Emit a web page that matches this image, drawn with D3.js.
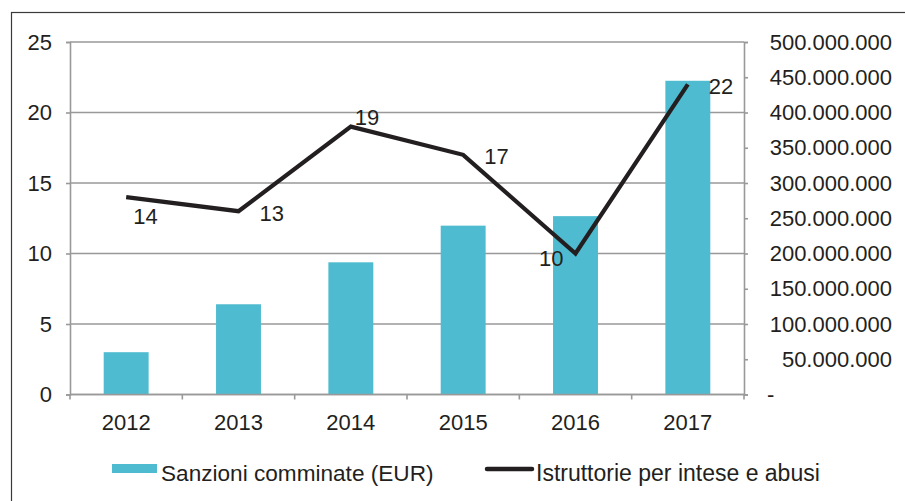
<!DOCTYPE html>
<html>
<head>
<meta charset="utf-8">
<script src="https://cdn.jsdelivr.net/npm/d3@7"></script>
<style>
  html, body { margin: 0; padding: 0; background: #fff; }
  svg { display: block; }
  text { font-family: "Liberation Sans", Arial, Helvetica, sans-serif; fill: #231f20; }
</style>
</head>
<body>
<svg id="chart" width="905" height="501"></svg>
<script>
// ---- data ----
const years = ["2012", "2013", "2014", "2015", "2016", "2017"];
const sanzioni = [60000000, 128000000, 187500000, 239500000, 253000000, 445000000];
const istruttorie = [14, 13, 19, 17, 10, 22];
const leftTicks = [0, 5, 10, 15, 20, 25];
const rightTicks = [0, 50000000, 100000000, 150000000, 200000000, 250000000, 300000000, 350000000, 400000000, 450000000, 500000000];
const seriesNames = ["Sanzioni comminate (EUR)", "Istruttorie per intese e abusi"];
const labelPlacement = ["below", "right", "above", "right", "left", "right"];

// ---- styles ----
const barColor = "#4fbbd0";
const lineColor = "#231f20";
const gridColor = "#999999";
const fontSize = 22;

const svg = d3.select("#chart");
const plot = { left: 70, right: 744, top: 42, bottom: 394.5 };

// outer frame
svg.append("rect")
  .attr("x", 11.5).attr("y", 12.5)
  .attr("width", 960).attr("height", 560)
  .attr("fill", "none").attr("stroke", "#3a3a3a").attr("stroke-width", 1.2);

const x = d3.scaleBand().domain(years).range([plot.left, plot.right])
  .paddingInner(0.6).paddingOuter(0.3);
const yL = d3.scaleLinear().domain([0, 25]).range([plot.bottom, plot.top]);
const yR = d3.scaleLinear().domain([0, 500000000]).range([plot.bottom, plot.top]);

// gridlines
svg.append("g").selectAll("line").data(leftTicks).join("line")
  .attr("x1", plot.left).attr("x2", plot.right)
  .attr("y1", d => yL(d)).attr("y2", d => yL(d))
  .attr("stroke", gridColor).attr("stroke-width", 1.6);

// bars
svg.append("g").selectAll("rect").data(sanzioni).join("rect")
  .attr("x", (d, i) => x(years[i]))
  .attr("width", x.bandwidth())
  .attr("y", d => yR(d))
  .attr("height", d => yR(0) - yR(d))
  .attr("fill", barColor);

// left axis
const leftAxis = svg.append("g").attr("transform", `translate(${plot.left},0)`)
  .call(d3.axisLeft(yL).tickValues(leftTicks).tickSize(4).tickPadding(14).tickFormat(d3.format("d")));
leftAxis.select(".domain").attr("stroke", gridColor).attr("stroke-width", 1.6);
leftAxis.selectAll(".tick line").attr("stroke", gridColor).attr("stroke-width", 1.6);
leftAxis.selectAll(".tick text").attr("font-size", fontSize).attr("fill", "#231f20")
  .style("font-family", '"Liberation Sans", Arial, sans-serif');

// right axis
const fmtIt = d => d === 0 ? "-" : d3.format(",")(d).replace(/,/g, ".");
const rightAxis = svg.append("g").attr("transform", `translate(${plot.right},0)`)
  .call(d3.axisRight(yR).tickValues(rightTicks).tickSize(4).tickFormat(fmtIt));
rightAxis.select(".domain").attr("stroke", gridColor).attr("stroke-width", 1.6);
rightAxis.selectAll(".tick line").attr("stroke", gridColor).attr("stroke-width", 1.6);
rightAxis.selectAll(".tick text")
  .attr("font-size", fontSize).attr("fill", "#231f20")
  .style("font-family", '"Liberation Sans", Arial, sans-serif')
  .attr("text-anchor", d => d === 0 ? "start" : "end")
  .attr("x", d => d === 0 ? 23 : 148);

// bottom axis line + boundary ticks
svg.append("line")
  .attr("x1", plot.left).attr("x2", plot.right)
  .attr("y1", plot.bottom).attr("y2", plot.bottom)
  .attr("stroke", gridColor).attr("stroke-width", 1.6);
const boundaries = years.map(d => x(d) - x.step() * x.paddingInner() / 2);
boundaries.push(plot.right);
boundaries[0] = plot.left;
svg.append("g").selectAll("line").data(boundaries).join("line")
  .attr("x1", d => d).attr("x2", d => d)
  .attr("y1", plot.bottom).attr("y2", plot.bottom + 5)
  .attr("stroke", gridColor).attr("stroke-width", 1.6);
svg.append("g").selectAll("text").data(years).join("text")
  .attr("x", d => x(d) + x.bandwidth() / 2)
  .attr("y", 422)
  .attr("text-anchor", "middle").attr("dominant-baseline", "central")
  .attr("font-size", fontSize)
  .text(d => d);

// line
const cx = i => x(years[i]) + x.bandwidth() / 2;
const line = d3.line().x((d, i) => cx(i)).y(d => yL(d));
svg.append("path").datum(istruttorie)
  .attr("d", line)
  .attr("fill", "none").attr("stroke", lineColor)
  .attr("stroke-width", 4.2).attr("stroke-linejoin", "miter").attr("stroke-linecap", "butt");

// line labels
const place = {
  below: { dx: 7, dy: 19, anchor: "start" },
  right: { dx: 21, dy: 2, anchor: "start" },
  above: { dx: 4, dy: -9, anchor: "start" },
  left: { dx: -12, dy: 5, anchor: "end" }
};
svg.append("g").selectAll("text").data(istruttorie).join("text")
  .attr("x", (d, i) => cx(i) + place[labelPlacement[i]].dx)
  .attr("y", (d, i) => yL(d) + place[labelPlacement[i]].dy)
  .attr("text-anchor", (d, i) => place[labelPlacement[i]].anchor)
  .attr("dominant-baseline", "central")
  .attr("font-size", fontSize)
  .text(d => d);

// legend
const lg = svg.append("g");
lg.append("rect").attr("x", 112).attr("y", 464).attr("width", 45).attr("height", 9).attr("fill", barColor);
lg.append("text").attr("x", 161).attr("y", 481).attr("font-size", 22.6).text(seriesNames[0]);
lg.append("line").attr("x1", 487).attr("x2", 532).attr("y1", 469).attr("y2", 469)
  .attr("stroke", lineColor).attr("stroke-width", 4.5).attr("stroke-linecap", "round");
lg.append("text").attr("x", 536).attr("y", 481).attr("font-size", 23).text(seriesNames[1]);
</script>
</body>
</html>
